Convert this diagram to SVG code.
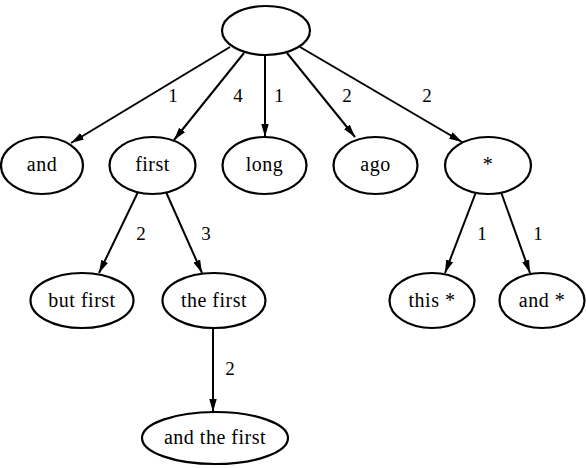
<svg xmlns="http://www.w3.org/2000/svg" width="586" height="468" viewBox="0 0 586 468">
<style>
.n ellipse{fill:#fff;stroke:#000;stroke-width:2.2}
.n text{font-family:"Liberation Serif","Times New Roman","DejaVu Serif",serif;font-size:20px;letter-spacing:0.5px;text-anchor:middle;fill:#000}
.e line{stroke:#000;stroke-width:2;marker-end:url(#ah)}
.e text{font-family:"Liberation Serif","Times New Roman","DejaVu Serif",serif;font-size:19px;text-anchor:middle;fill:#000}
</style>
<defs>
<marker id="ah" markerUnits="userSpaceOnUse" markerWidth="14" markerHeight="9" refX="13" refY="4.5" orient="auto">
<path d="M0,0.8 L13,4.5 L0,8.2 Z" fill="#000"/>
</marker>
</defs>
<rect width="586" height="468" fill="#fff"/>
<g id="edges" class="e">
<line x1="230" y1="47" x2="71" y2="143"/>
<line x1="244" y1="53" x2="174" y2="140"/>
<line x1="265" y1="55" x2="265" y2="137"/>
<line x1="287" y1="53" x2="355" y2="137"/>
<line x1="300" y1="47" x2="462" y2="142"/>
<line x1="138" y1="192" x2="99" y2="273"/>
<line x1="166" y1="192" x2="202" y2="273"/>
<line x1="476" y1="192" x2="445" y2="273"/>
<line x1="501" y1="192" x2="530" y2="273"/>
<line x1="213" y1="328" x2="213" y2="412"/>
<text x="173" y="102">1</text>
<text x="238" y="102">4</text>
<text x="279" y="102">1</text>
<text x="347" y="102">2</text>
<text x="427" y="102">2</text>
<text x="141" y="240">2</text>
<text x="206" y="240">3</text>
<text x="482" y="240">1</text>
<text x="538" y="240">1</text>
<text x="230" y="375">2</text>
</g>
<g id="root" class="n"><ellipse cx="266" cy="30.5" rx="44" ry="24.5"/></g>
<g id="and" class="n"><ellipse cx="42" cy="165.5" rx="41" ry="28.5"/><text x="42" y="171">and</text></g>
<g id="first" class="n"><ellipse cx="152.5" cy="165.5" rx="43" ry="28.5"/><text x="152.5" y="171">first</text></g>
<g id="long" class="n"><ellipse cx="264.5" cy="165.5" rx="42" ry="28.5"/><text x="264.5" y="171">long</text></g>
<g id="ago" class="n"><ellipse cx="375.5" cy="165.5" rx="42" ry="28.5"/><text x="375.5" y="171">ago</text></g>
<g id="star" class="n"><ellipse cx="488" cy="165.5" rx="43" ry="28.5"/><text x="488" y="171">*</text></g>
<g id="butfirst" class="n"><ellipse cx="82" cy="300.5" rx="51.5" ry="27.5"/><text x="82" y="307">but first</text></g>
<g id="thefirst" class="n"><ellipse cx="214" cy="300.5" rx="51.5" ry="27.5"/><text x="214" y="307">the first</text></g>
<g id="thisstar" class="n"><ellipse cx="432" cy="300.5" rx="42.5" ry="27.5"/><text x="432" y="307">this *</text></g>
<g id="andstar" class="n"><ellipse cx="542" cy="300.5" rx="42.5" ry="27.5"/><text x="542" y="307">and *</text></g>
<g id="andthefirst" class="n"><ellipse cx="215" cy="438" rx="73" ry="26"/><text x="215" y="444">and the first</text></g>
</svg>
